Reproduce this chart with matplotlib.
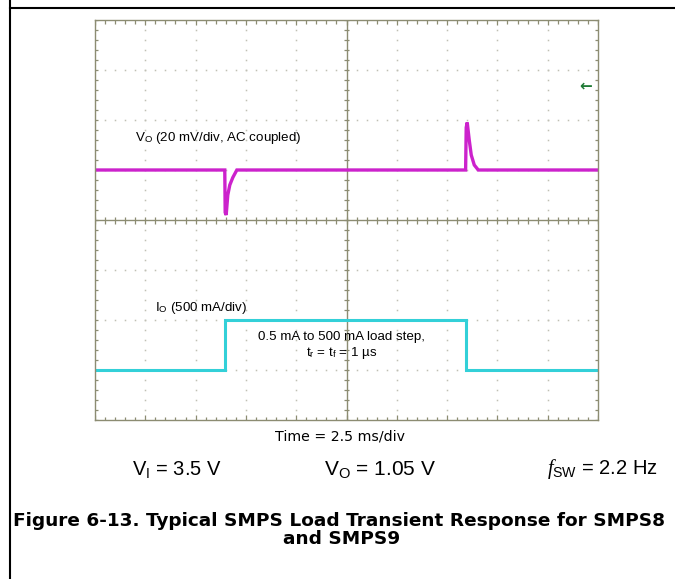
import numpy as np
import matplotlib
matplotlib.use("Agg")
import matplotlib.pyplot as plt
from matplotlib.lines import Line2D

plt.rcParams["font.family"] = ["Liberation Sans", "DejaVu Sans"]
plt.rcParams["mathtext.fontset"] = "custom"
plt.rcParams["mathtext.rm"] = "Liberation Sans"
plt.rcParams["mathtext.it"] = "Liberation Serif:italic"

# ── scope data ─────────────────────────────────────────────────────────
# output voltage, AC coupled (mV) vs time (ms)
vo_t  = [0.0, 6.45, 6.47, 6.52, 6.60, 6.70, 6.85, 7.05,
         18.42, 18.45, 18.50, 18.60, 18.70, 18.85, 19.05, 25.0]
vo_mv = [0.0, 0.0, -17.0, -18.0, -10.0, -6.0, -3.0, 0.0,
         0.0, 17.0, 19.0, 12.0, 6.0, 2.0, 0.0, 0.0]

# load current (mA) vs time (ms)
io_t  = [0.0, 6.45, 6.45, 18.42, 18.42, 25.0]
io_ma = [0.5, 0.5, 500.0, 500.0, 0.5, 0.5]

# scope settings
TIME_DIV = 2.5     # ms/div
VO_DIV = 20.0      # mV/div
IO_DIV = 500.0     # mA/div
VO_POS = 1.0       # div offset of channel
IO_POS = -3.0

GRID_COL = "#8c8c72"
DOT_COL = "#c0c0b4"

W, H = 675, 579
fig = plt.figure(figsize=(W / 100, H / 100), dpi=100)

# scope screen: x 95..598 px, y 20..420 px
ax = fig.add_axes([95 / W, 1 - 420 / H, 503 / W, 400 / H])
ax.set_xlim(0, 10)
ax.set_ylim(-4, 4)
ax.set_xticks([])
ax.set_yticks([])
for s in ax.spines.values():
    s.set_color(GRID_COL)
    s.set_linewidth(1.0)

# dotted graticule
minor_x = np.arange(0, 10.01, 0.2)
minor_y = np.arange(-4, 4.01, 0.2)
for gx in range(1, 10):
    if gx == 5:
        continue
    ax.plot(np.full_like(minor_y, gx), minor_y, ls="none", marker="s",
            ms=1.1, color=DOT_COL, mec="none")
for gy in range(-3, 4):
    if gy == 0:
        continue
    ax.plot(minor_x, np.full_like(minor_x, gy), ls="none", marker="s",
            ms=1.1, color=DOT_COL, mec="none")

# centre cross with ticks
ax.axhline(0, color=GRID_COL, lw=1.0)
ax.axvline(5, color=GRID_COL, lw=1.0)
ax.vlines(minor_x, -0.07, 0.07, color=GRID_COL, lw=0.9)
ax.hlines(minor_y, 5 - 0.04, 5 + 0.04, color=GRID_COL, lw=0.9)

# edge ticks
for x in minor_x:
    big = abs(x - round(x)) < 1e-6
    ln = 0.1 if big else 0.07
    ax.vlines(x, 4 - ln, 4, color=GRID_COL, lw=0.9)
    ax.vlines(x, -4, -4 + ln, color=GRID_COL, lw=0.9)
for y in minor_y:
    ax.hlines(y, 0, 0.06, color=GRID_COL, lw=0.9)
    ax.hlines(y, 10 - 0.06, 10, color=GRID_COL, lw=0.9)

# traces
vo_x = np.array(vo_t) / TIME_DIV
vo_y = np.array(vo_mv) / VO_DIV + VO_POS
io_x = np.array(io_t) / TIME_DIV
io_y = np.array(io_ma) / IO_DIV + IO_POS
ax.plot(vo_x, vo_y, color="#cc22cc", lw=2.4, solid_joinstyle="miter")
ax.plot(io_x, io_y, color="#33d0d8", lw=2.2, solid_joinstyle="miter")

# trigger marker
ax.text(9.76, 2.68, "\u2190", color="#1f7a35", fontsize=11,
        ha="center", va="center", family="DejaVu Sans", fontweight="bold")

# channel labels
LBL = 9.6
ax.text(0.8, 1.65, r"V$_\mathrm{O}$ (20 mV/div, AC coupled)", fontsize=LBL,
        ha="left", va="center")
ax.text(1.2, -1.76, r"I$_\mathrm{O}$ (500 mA/div)", fontsize=LBL,
        ha="left", va="center")
ax.text(4.9, -2.34, "0.5 mA to 500 mA load step,", fontsize=LBL,
        ha="center", va="center")
ax.text(4.9, -2.66, r"t$_\mathrm{r}$ = t$_\mathrm{f}$ = 1 µs", fontsize=LBL,
        ha="center", va="center")

# text below the screen
def fy(py):
    return 1 - py / H

fig.text(340 / W, fy(437), "Time = 2.5 ms/div", fontsize=10.2, ha="center",
         va="center", family="DejaVu Sans")
fig.text(177 / W, fy(469), r"V$_\mathrm{I}$ = 3.5 V", fontsize=14.5,
         ha="center", va="center")
fig.text(380 / W, fy(469), r"V$_\mathrm{O}$ = 1.05 V", fontsize=15,
         ha="center", va="center")
fig.text(602 / W, fy(469), r"$f_\mathrm{SW}$ = 2.2 Hz", fontsize=14.5,
         ha="center", va="center")

fig.text(339 / W, fy(521),
         "Figure 6-13. Typical SMPS Load Transient Response for SMPS8",
         fontsize=13.3, fontweight="bold", ha="center", va="center",
         family="DejaVu Sans")
fig.text(342 / W, fy(539), "and SMPS9", fontsize=13.3, fontweight="bold",
         ha="center", va="center", family="DejaVu Sans")

# page frame (left and top rules)
fig.add_artist(Line2D([10 / W, 10 / W], [0, 1], transform=fig.transFigure,
                      color="black", lw=1.5))
fig.add_artist(Line2D([10 / W, 1], [fy(8), fy(8)], transform=fig.transFigure,
                      color="black", lw=1.5))

fig.savefig("out.png", dpi=100)
